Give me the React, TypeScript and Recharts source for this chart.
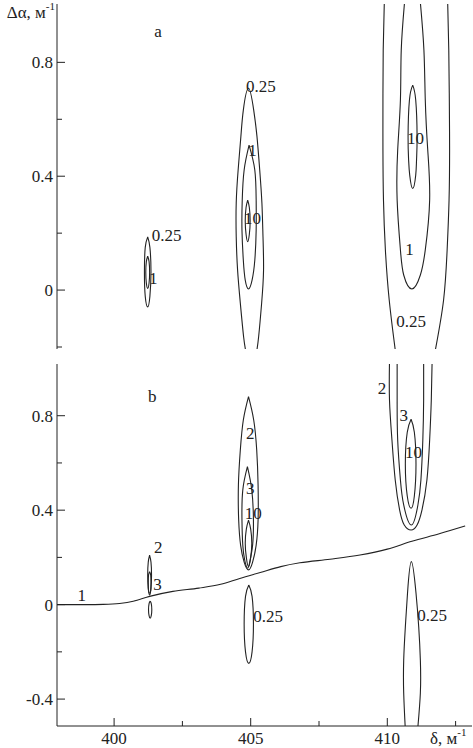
import { ComposedChart, Line, Scatter, XAxis, YAxis } from "recharts";

type Pt = [number, number];
type Tag = { x: number; y: number; text: string };

// δ, м⁻¹
const deltaTicks = [400, 402.5, 405, 407.5, 410, 412.5];
const deltaLabelled = [400, 405, 410];
const deltaRange: [number, number] = [397.91, 413.1];

// Δα, м⁻¹
const alphaTicksA = [-0.2, 0, 0.2, 0.4, 0.6, 0.8];
const alphaTicksB = [-0.4, -0.2, 0, 0.2, 0.4, 0.6, 0.8];
const alphaLabelled = [-0.4, 0, 0.4, 0.8];
const alphaRangeA: [number, number] = [-0.207, 1.005];
const alphaRangeB: [number, number] = [-0.514, 1.019];

// panel a: contour lines (δ, Δα)
const a401Level025: Pt[] = [[401.23, 0.187], [401.31, 0.15], [401.35, 0.064], [401.31, -0.022], [401.23, -0.059], [401.14, -0.022], [401.11, 0.064], [401.14, 0.15], [401.23, 0.187]];
const a401Level1: Pt[] = [[401.23, 0.119], [401.28, 0.1], [401.3, 0.062], [401.28, 0.025], [401.23, 0.006], [401.18, 0.025], [401.16, 0.062], [401.18, 0.1], [401.23, 0.119]];
const a405Level025: Pt[] = [[404.82, -0.215], [404.74, -0.164], [404.62, -0.046], [404.52, 0.07], [404.47, 0.187], [404.47, 0.306], [404.54, 0.422], [404.64, 0.539], [404.73, 0.632], [404.92, 0.709], [405.11, 0.632], [405.23, 0.539], [405.33, 0.422], [405.41, 0.306], [405.45, 0.187], [405.47, 0.07], [405.4, -0.046], [405.29, -0.164], [405.22, -0.215]];
const a405Level1: Pt[] = [[404.94, 0.509], [405.15, 0.422], [405.2, 0.316], [405.2, 0.211], [405.15, 0.105], [405.05, 0.035], [404.92, 0.004], [404.8, 0.035], [404.73, 0.105], [404.68, 0.211], [404.69, 0.316], [404.76, 0.422], [404.94, 0.509]];
const a405Level10: Pt[] = [[404.89, 0.316], [404.95, 0.29], [404.98, 0.243], [404.95, 0.196], [404.89, 0.17], [404.83, 0.196], [404.8, 0.243], [404.83, 0.29], [404.89, 0.316]];
const a411Level025Left: Pt[] = [[409.89, 1.01], [409.85, 0.843], [409.84, 0.668], [409.84, 0.492], [409.86, 0.316], [409.93, 0.141], [410.07, -0.035], [410.29, -0.21]];
const a411Level025Right: Pt[] = [[412.21, 1.01], [412.25, 0.843], [412.27, 0.668], [412.28, 0.492], [412.26, 0.316], [412.19, 0.141], [412.06, -0.035], [411.76, -0.21]];
const a411Level1: Pt[] = [[410.63, 1.01], [410.51, 0.843], [410.48, 0.668], [410.38, 0.492], [410.36, 0.316], [410.48, 0.141], [410.6, 0.053], [410.9, 0.004], [411.21, 0.053], [411.39, 0.141], [411.55, 0.316], [411.48, 0.492], [411.39, 0.668], [411.34, 0.843], [411.21, 1.01]];
const a411Level10: Pt[] = [[410.93, 0.72], [411.04, 0.668], [411.09, 0.539], [411.07, 0.457], [411.04, 0.404], [410.93, 0.357], [410.82, 0.404], [410.78, 0.457], [410.76, 0.539], [410.81, 0.668], [410.93, 0.72]];

// panel b: boundary curve and contour lines
const bBoundary: Pt[] = [[397.91, 0], [399.0, 0], [399.6, 0.001], [400.2, 0.005], [400.7, 0.014], [401.3, 0.035], [402.15, 0.056], [403.1, 0.07], [403.9, 0.086], [404.6, 0.111], [405.35, 0.136], [406.1, 0.161], [406.8, 0.177], [407.9, 0.192], [409.0, 0.21], [410.0, 0.235], [410.9, 0.268], [411.9, 0.3], [412.85, 0.333]];
const b401Level2: Pt[] = [[401.3, 0.209], [401.35, 0.18], [401.37, 0.125], [401.35, 0.07], [401.3, 0.041], [401.25, 0.07], [401.23, 0.125], [401.25, 0.18], [401.3, 0.209]];
const b401Level3: Pt[] = [[401.3, 0.139], [401.34, 0.125], [401.35, 0.093], [401.34, 0.06], [401.3, 0.048], [401.26, 0.06], [401.25, 0.093], [401.26, 0.125], [401.3, 0.139]];
const b401Lower: Pt[] = [[401.32, 0.015], [401.36, 0.004], [401.38, -0.022], [401.36, -0.047], [401.32, -0.058], [401.28, -0.047], [401.26, -0.022], [401.28, 0.004], [401.32, 0.015]];
const b405Level2: Pt[] = [[404.92, 0.881], [405.11, 0.782], [405.22, 0.655], [405.27, 0.507], [405.27, 0.358], [405.2, 0.252], [405.07, 0.18], [404.92, 0.147], [404.76, 0.18], [404.63, 0.252], [404.56, 0.358], [404.55, 0.507], [404.62, 0.655], [404.73, 0.782], [404.92, 0.881]];
const b405Level3: Pt[] = [[404.88, 0.584], [405.04, 0.485], [405.1, 0.358], [405.07, 0.252], [404.98, 0.189], [404.89, 0.154], [404.78, 0.189], [404.71, 0.252], [404.68, 0.358], [404.71, 0.485], [404.88, 0.584]];
const b405Level10: Pt[] = [[404.92, 0.358], [405.0, 0.32], [405.04, 0.26], [405.0, 0.2], [404.92, 0.161], [404.84, 0.2], [404.8, 0.26], [404.84, 0.32], [404.92, 0.358]];
const b405Lower: Pt[] = [[404.93, 0.083], [405.05, 0.035], [405.1, -0.083], [405.05, -0.2], [404.93, -0.249], [404.81, -0.2], [404.76, -0.083], [404.81, 0.035], [404.93, 0.083]];
const b411Level2: Pt[] = [[410.08, 1.03], [410.08, 0.867], [410.17, 0.697], [410.29, 0.528], [410.45, 0.401], [410.62, 0.337], [410.87, 0.316], [411.09, 0.337], [411.27, 0.401], [411.45, 0.528], [411.55, 0.697], [411.61, 0.867], [411.64, 1.03]];
const b411Level3: Pt[] = [[410.36, 1.03], [410.36, 0.867], [410.38, 0.697], [410.48, 0.528], [410.6, 0.422], [410.88, 0.337], [411.12, 0.422], [411.23, 0.528], [411.3, 0.697], [411.33, 0.867], [411.33, 1.03]];
const b411Level10: Pt[] = [[410.87, 0.785], [410.99, 0.73], [411.05, 0.596], [410.99, 0.46], [410.87, 0.408], [410.73, 0.46], [410.66, 0.596], [410.73, 0.73], [410.87, 0.785]];
const b411Lower: Pt[] = [[410.66, -0.53], [410.6, -0.374], [410.6, -0.235], [410.66, -0.095], [410.74, 0.049], [410.88, 0.182], [411.05, 0.049], [411.15, -0.095], [411.21, -0.235], [411.21, -0.374], [411.11, -0.53]];

// level labels, placed in (δ, Δα)
const tagsA: Tag[] = [
  { x: 401.61, y: 0.907, text: "a" },
  { x: 401.92, y: 0.191, text: "0.25" },
  { x: 401.43, y: 0.042, text: "1" },
  { x: 405.37, y: 0.714, text: "0.25" },
  { x: 405.07, y: 0.492, text: "1" },
  { x: 405.07, y: 0.252, text: "10" },
  { x: 411.03, y: 0.534, text: "10" },
  { x: 410.81, y: 0.141, text: "1" },
  { x: 410.87, y: -0.112, text: "0.25" },
];
const tagsB: Tag[] = [
  { x: 401.4, y: 0.881, text: "b" },
  { x: 398.82, y: 0.038, text: "1" },
  { x: 401.62, y: 0.241, text: "2" },
  { x: 401.59, y: 0.086, text: "3" },
  { x: 404.98, y: 0.726, text: "2" },
  { x: 404.98, y: 0.493, text: "3" },
  { x: 405.09, y: 0.387, text: "10" },
  { x: 405.64, y: -0.051, text: "0.25" },
  { x: 409.81, y: 0.916, text: "2" },
  { x: 410.6, y: 0.803, text: "3" },
  { x: 410.96, y: 0.643, text: "10" },
  { x: 411.64, y: -0.048, text: "0.25" },
];

const contoursA = [a401Level025, a401Level1, a405Level025, a405Level1, a405Level10, a411Level025Left, a411Level025Right, a411Level1, a411Level10];
const contoursB = [b401Level2, b401Level3, b401Lower, b405Level2, b405Level3, b405Level10, b405Lower, b411Level2, b411Level3, b411Level10, b411Lower];

const INK = "#222";
const FONT = "'Liberation Serif', 'Times New Roman', 'DejaVu Serif', serif";
const W = 473;

const toRows = (pts: Pt[]) => pts.map(([x, y]) => ({ x, y }));
const fmt = (v: number) => (v === 0 ? "0" : String(v));

type Side = "left" | "right" | "top" | "bottom";

function makeTick(side: Side, majors: number[], withText: boolean) {
  return (props: any) => {
    const { x, y, payload } = props;
    const v: number = payload.value;
    const major = majors.some((m) => Math.abs(m - v) < 1e-6);
    const len = major ? 8 : 5;
    const dx = side === "left" ? len : side === "right" ? -len : 0;
    const dy = side === "top" ? len : side === "bottom" ? -len : 0;
    let label = null;
    if (withText && major) {
      label =
        side === "left" ? (
          <text x={x - 4} y={y + 6} textAnchor="end" fontSize={17} fontFamily={FONT} fill={INK}>
            {fmt(v)}
          </text>
        ) : (
          <text x={x} y={y + 18} textAnchor="middle" fontSize={17} fontFamily={FONT} fill={INK}>
            {fmt(v)}
          </text>
        );
    }
    return (
      <g>
        <line x1={x} y1={y} x2={x + dx} y2={y + dy} stroke={INK} strokeWidth={1} />
        {label}
      </g>
    );
  };
}

function tagShape(props: any) {
  const { cx, cy, payload } = props;
  return (
    <text x={cx} y={cy} textAnchor="middle" dominantBaseline="central" fontSize={17} fontFamily={FONT} fill={INK}>
      {payload.text}
    </text>
  );
}

interface PanelProps {
  height: number;
  top: number;
  bottom: number;
  lower: boolean;
  contours: Pt[][];
  boundary?: Pt[];
  tags: Tag[];
  alphaRange: [number, number];
  alphaTicks: number[];
}

function Panel({ height, top, bottom, lower, contours, boundary, tags, alphaRange, alphaTicks }: PanelProps) {
  const axisLine = { stroke: INK, strokeWidth: 1 };
  return (
    <ComposedChart width={W} height={height} margin={{ top, right: 1, bottom, left: 0 }}>
      <XAxis
        xAxisId="b"
        dataKey="x"
        type="number"
        domain={deltaRange}
        allowDataOverflow
        ticks={deltaTicks}
        interval={0}
        height={lower ? 22 : 0}
        tickSize={0}
        tickMargin={0}
        tickLine={false}
        axisLine={axisLine}
        tick={makeTick("bottom", deltaLabelled, lower)}
        label={
          lower
            ? () => (
                <text x={430} y={389} fontSize={17} fontFamily={FONT} fill={INK}>
                  δ, м<tspan dy={-8} fontSize={11}>-1</tspan>
                </text>
              )
            : undefined
        }
      />
      <XAxis
        xAxisId="t"
        orientation="top"
        dataKey="x"
        type="number"
        domain={deltaRange}
        allowDataOverflow
        ticks={deltaTicks}
        interval={0}
        height={0}
        tickSize={0}
        tickMargin={0}
        tickLine={false}
        axisLine={axisLine}
        tick={makeTick("top", deltaLabelled, false)}
      />
      <YAxis
        yAxisId="l"
        dataKey="y"
        type="number"
        domain={alphaRange}
        allowDataOverflow
        ticks={alphaTicks}
        interval={0}
        width={57}
        tickSize={0}
        tickMargin={0}
        tickLine={false}
        axisLine={axisLine}
        tick={makeTick("left", alphaLabelled, true)}
        label={
          lower
            ? undefined
            : () => (
                <text x={55} y={18} textAnchor="end" fontSize={17} fontFamily={FONT} fill={INK}>
                  Δα, м<tspan dy={-8} fontSize={11}>-1</tspan>
                </text>
              )
        }
      />
      <YAxis
        yAxisId="r"
        orientation="right"
        dataKey="y"
        type="number"
        domain={alphaRange}
        allowDataOverflow
        ticks={alphaTicks}
        interval={0}
        width={0}
        tickSize={0}
        tickMargin={0}
        tickLine={false}
        axisLine={axisLine}
        tick={makeTick("right", alphaLabelled, false)}
      />
      {contours.map((c, i) => (
        <Line
          key={i}
          xAxisId="b"
          yAxisId="l"
          data={toRows(c)}
          dataKey="y"
          type="natural"
          stroke={INK}
          strokeWidth={1.1}
          dot={false}
          activeDot={false}
          isAnimationActive={false}
        />
      ))}
      {boundary && (
        <Line
          xAxisId="b"
          yAxisId="l"
          data={toRows(boundary)}
          dataKey="y"
          type="monotone"
          stroke={INK}
          strokeWidth={1.1}
          dot={false}
          activeDot={false}
          isAnimationActive={false}
        />
      )}
      <Scatter xAxisId="b" yAxisId="l" data={tags} dataKey="y" shape={tagShape} isAnimationActive={false} />
    </ComposedChart>
  );
}

export default function App() {
  return (
    <div style={{ position: "absolute", left: 0, top: 0, width: W, height: 748, background: "#fff" }}>
      <Panel
        height={355}
        top={4}
        bottom={6}
        lower={false}
        contours={contoursA}
        tags={tagsA}
        alphaRange={alphaRangeA}
        alphaTicks={alphaTicksA}
      />
      <Panel
        height={393}
        top={9}
        bottom={0}
        lower
        contours={contoursB}
        boundary={bBoundary}
        tags={tagsB}
        alphaRange={alphaRangeB}
        alphaTicks={alphaTicksB}
      />
    </div>
  );
}
